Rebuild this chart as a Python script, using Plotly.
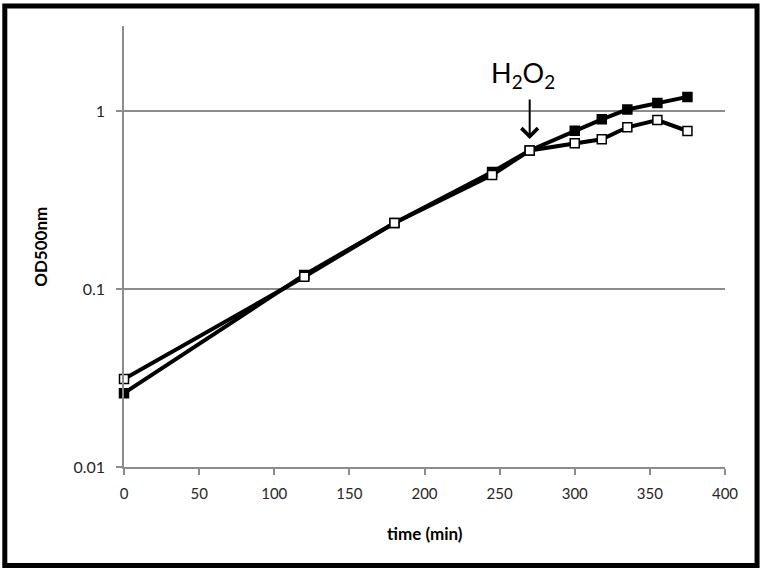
import plotly.graph_objects as go
import math

time_min = [0, 120, 180, 245, 270, 300, 318, 335, 355, 375]
od_control = [0.026, 0.120, 0.235, 0.454, 0.600, 0.775, 0.898, 1.02, 1.11, 1.20]
od_h2o2 = [0.0312, 0.117, 0.235, 0.437, 0.600, 0.659, 0.693, 0.81, 0.89, 0.772]

x_ticks = [0, 50, 100, 150, 200, 250, 300, 350, 400]
y_ticks = [0.01, 0.1, 1]
y_tick_text = ["0.01", "0.1", "1"]

H2O2_TIME = 270

FONT = "Lato"
GRAY = "#8c8c8c"

fig = go.Figure()
fig.add_trace(go.Scatter(
    x=time_min, y=od_control, mode="lines+markers",
    line=dict(color="black", width=4),
    marker=dict(symbol="square", size=9, color="black", line=dict(color="black", width=1.5)),
    cliponaxis=False, showlegend=False,
))
fig.add_trace(go.Scatter(
    x=time_min, y=od_h2o2, mode="lines+markers",
    line=dict(color="black", width=4),
    marker=dict(symbol="square", size=9, color="white", line=dict(color="black", width=1.5)),
    cliponaxis=False, showlegend=False,
))

# arrow marking H2O2 addition
fig.add_annotation(
    x=H2O2_TIME, y=math.log10(0.696), xref="x", yref="y",
    ax=0, ay=-41, text="", showarrow=True,
    arrowhead=4, arrowsize=1.6, arrowwidth=2, arrowcolor="black",
)
fig.add_annotation(
    x=H2O2_TIME, y=math.log10(1.0) + (111 - 74) / 178.0, xref="x", yref="y",
    xshift=-7, text="H<sub>2</sub>O<sub>2</sub>", showarrow=False,
    font=dict(family=FONT, size=27, color="black"),
    xanchor="center", yanchor="middle",
)

# axis titles
fig.add_annotation(
    x=0.5, y=(467 - 533) / 441.0, xref="paper", yref="paper",
    text="<b>time (min)</b>", showarrow=False,
    font=dict(family=FONT, size=17, color="black"),
    xanchor="center", yanchor="middle",
)
fig.add_annotation(
    x=(41 - 124.5) / 600.0, y=0.5, xref="paper", yref="paper",
    text="<b>OD500nm</b>", showarrow=False, textangle=-90,
    font=dict(family=FONT, size=17, color="black"),
    xanchor="center", yanchor="middle",
)

# outer border
fig.add_shape(
    type="rect", xref="paper", yref="paper",
    x0=(5.5 - 124.5) / 600.0, x1=(756.5 - 124.5) / 600.0,
    y0=(467 - 565.5) / 441.0, y1=(467 - 6) / 441.0,
    line=dict(color="black", width=5), fillcolor="rgba(0,0,0,0)",
)

fig.update_xaxes(
    range=[0, 400], tickvals=x_ticks, ticks="outside", ticklen=6, tickcolor=GRAY,
    tickwidth=1.5, showline=True, linecolor=GRAY, linewidth=1.5, showgrid=False,
    zeroline=False, tickfont=dict(family=FONT, size=15, color="#262626"),
    ticklabelstandoff=6,
)
fig.update_yaxes(
    type="log", range=[-2, -2 + 441 / 178.0], tickvals=y_ticks, ticktext=y_tick_text,
    ticks="outside", ticklen=6, tickcolor=GRAY, tickwidth=1.5,
    showline=True, linecolor=GRAY, linewidth=1.5,
    showgrid=True, gridcolor=GRAY, gridwidth=1.5, zeroline=False,
    tickfont=dict(family=FONT, size=16, color="#262626"),
    ticklabelstandoff=8,
)
fig.update_layout(
    width=765, height=572,
    margin=dict(l=124, r=40, t=26, b=105),
    plot_bgcolor="white", paper_bgcolor="white",
)
fig.write_html("out.html", config={"displayModeBar": False},
               post_script="document.body.style.margin='0';")
